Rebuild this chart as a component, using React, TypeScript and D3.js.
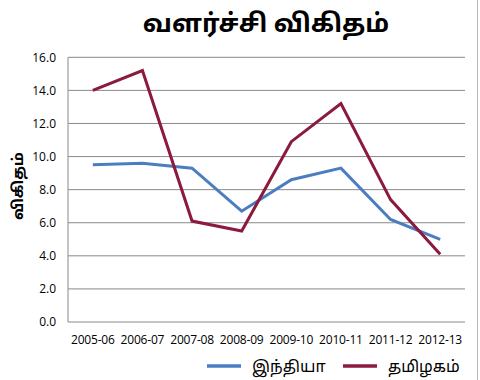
import React from "react";
import * as d3 from "d3";

const categories = ["2005-06", "2006-07", "2007-08", "2008-09", "2009-10", "2010-11", "2011-12", "2012-13"];
const indiaValues = [9.5, 9.6, 9.3, 6.7, 8.6, 9.3, 6.2, 5.0];
const tnValues = [14.0, 15.2, 6.1, 5.5, 10.9, 13.2, 7.4, 4.1];
const yTicks = [0, 2, 4, 6, 8, 10, 12, 14, 16];
const seriesNames = ["இந்தியா", "தமிழகம்"];
const seriesColors = ["#4a7ec0", "#8b1a3c"];
const title = "வளர்ச்சி விகிதம்";
const yTitle = "விகிதம்";

const W = 480;
const H = 380;
const left = 68;
const right = 465;
const top = 57.3;
const bottom = 322;

export default function App() {
  const x = d3.scaleBand<string>().domain(categories).range([left, right]);
  const y = d3.scaleLinear().domain([0, 16]).range([bottom, top]);
  const line = d3
    .line<number>()
    .x((_, i) => (x(categories[i]) as number) + x.bandwidth() / 2)
    .y((d) => y(d));
  const tickFont = "'Open Sans', 'Liberation Sans', sans-serif";
  const tamilFont = "'Noto Sans Tamil', 'Lohit Tamil', 'Noto Sans', sans-serif";
  const series = [indiaValues, tnValues];

  return (
    <svg
      width={W}
      height={H}
      style={{ position: "absolute", left: 0, top: 0, background: "#fff" }}
    >
      <rect x={0} y={0} width={W} height={H} fill="#fff" />
      <line x1={477.5} x2={477.5} y1={0} y2={H} stroke="#b8b8b8" strokeWidth={1} />
      <text
        x={266}
        y={32}
        textAnchor="middle"
        fontSize={25.5}
        fontWeight="bold"
        fill="#000"
        fontFamily={tamilFont}
      >
        {title}
      </text>
      {yTicks.map((t) => (
        <g key={t}>
          <line x1={left} x2={right} y1={y(t)} y2={y(t)} stroke="#8a8a8a" strokeWidth={1} />
          <text
            x={56}
            y={y(t)}
            dy="0.35em"
            textAnchor="end"
            fontSize={12}
            fontFamily={tickFont}
            fill="#000"
          >
            {d3.format(".1f")(t)}
          </text>
        </g>
      ))}
      <line x1={left} x2={left} y1={top} y2={bottom} stroke="#8a8a8a" strokeWidth={1} />
      {categories.map((c) => (
        <text
          key={c}
          x={(x(c) as number) + x.bandwidth() / 2}
          y={340}
          dy="0.35em"
          textAnchor="middle"
          fontSize={12}
          fontFamily={tickFont}
          fill="#000"
          letterSpacing={-0.2}
        >
          {c}
        </text>
      ))}
      <text
        transform={`translate(23,186) rotate(-90)`}
        textAnchor="middle"
        fontSize={15}
        fontWeight="bold"
        fontFamily={tamilFont}
        fill="#000"
      >
        {yTitle}
      </text>
      {series.map((s, i) => (
        <path
          key={i}
          d={line(s) || ""}
          fill="none"
          stroke={seriesColors[i]}
          strokeWidth={3}
          strokeLinejoin="miter"
        />
      ))}
      {[0, 1].map((i) => {
        const lx = i === 0 ? 207 : 343;
        return (
          <g key={i}>
            <line
              x1={lx}
              x2={lx + 34}
              y1={366}
              y2={366}
              stroke={seriesColors[i]}
              strokeWidth={3.5}
            />
            <text
              x={lx + 45}
              y={366}
              dy="0.35em"
              fontSize={16}
              fontFamily={tamilFont}
              fill="#000"
            >
              {seriesNames[i]}
            </text>
          </g>
        );
      })}
    </svg>
  );
}
